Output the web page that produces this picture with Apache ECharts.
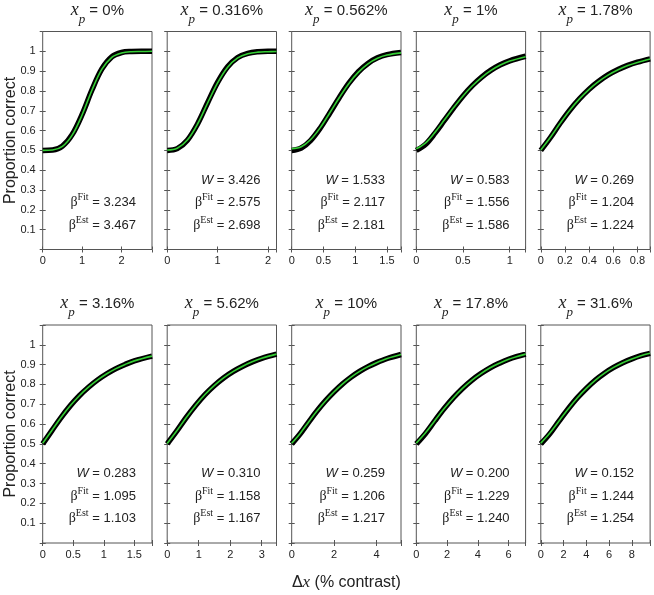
<!DOCTYPE html>
<html><head><meta charset="utf-8">
<script src="https://cdn.jsdelivr.net/npm/echarts@6/dist/echarts.min.js"></script>
<style>html,body{margin:0;padding:0;background:#fff}#c{width:654px;height:595px}</style>
</head><body><div id="c"></div>
<script>
// ---- data ----
const panelTitles = ['0%','0.316%','0.562%','1%','1.78%','3.16%','5.62%','10%','17.8%','31.6%'];
const wValues  = [null,'3.426','1.533','0.583','0.269','0.283','0.310','0.259','0.200','0.152'];
const betaFit  = ['3.234','2.575','2.117','1.556','1.204','1.095','1.158','1.206','1.229','1.244'];
const betaEst  = ['3.467','2.698','2.181','1.586','1.224','1.103','1.167','1.217','1.240','1.254'];
const xMax     = [2.77, 2.17, 1.72, 1.17, 0.905, 1.79, 3.47, 5.15, 7.1, 9.6];
const xTickStep= [1, 1, 0.5, 0.5, 0.2, 0.5, 1, 2, 2, 2];
const yTickLabels = [0.1,0.2,0.3,0.4,0.5,0.6,0.7,0.8,0.9,1];

const xs1 = [0,0.25,0.5,0.75,1.0,1.25,1.5,1.75,2.0,2.25,2.5,2.77];
const black1 = [0.5,0.502,0.522,0.581,0.682,0.806,0.911,0.972,0.994,0.999,1.0,1.0];
const green1 = [0.5,0.502,0.520,0.578,0.680,0.805,0.910,0.970,0.992,0.998,0.999,1.0];

const xs2 = [0,0.2,0.4,0.6,0.8,1.0,1.2,1.4,1.6,1.8,2.0,2.17];
const black2 = [0.5,0.509,0.551,0.632,0.739,0.843,0.922,0.969,0.990,0.998,1.0,1.0];
const green2 = [0.502,0.511,0.552,0.632,0.738,0.841,0.920,0.967,0.988,0.996,0.998,0.999];

const xs3 = [0,0.15,0.3,0.45,0.6,0.75,0.9,1.05,1.2,1.35,1.5,1.72];
const black3 = [0.5,0.512,0.551,0.613,0.689,0.767,0.839,0.897,0.939,0.967,0.983,0.994];
const green3 = [0.508,0.518,0.555,0.615,0.690,0.767,0.838,0.895,0.937,0.965,0.981,0.992];

const xs4 = [0,0.1,0.2,0.3,0.4,0.5,0.6,0.7,0.8,0.9,1.0,1.17];
const black4 = [0.5,0.531,0.587,0.651,0.715,0.775,0.827,0.870,0.905,0.932,0.952,0.975];
const green4 = [0.508,0.538,0.591,0.653,0.716,0.775,0.826,0.869,0.904,0.931,0.951,0.973];

const xs5 = [0,0.08,0.16,0.24,0.32,0.40,0.48,0.56,0.64,0.72,0.80,0.905];
const black5 = [0.5,0.565,0.637,0.703,0.760,0.809,0.849,0.882,0.908,0.929,0.945,0.962];
const green5 = [0.502,0.566,0.637,0.703,0.760,0.808,0.848,0.881,0.907,0.928,0.944,0.961];

const xs6 = [0,0.15,0.3,0.45,0.6,0.75,0.9,1.05,1.2,1.35,1.5,1.79];
const black6 = [0.5,0.567,0.633,0.692,0.743,0.786,0.823,0.854,0.880,0.901,0.919,0.943];
const green6 = [0.503,0.568,0.633,0.692,0.743,0.786,0.823,0.854,0.880,0.901,0.919,0.943];

const xs7 = [0,0.3,0.6,0.9,1.2,1.5,1.8,2.1,2.4,2.7,3.0,3.47];
const black7 = [0.5,0.564,0.632,0.694,0.749,0.795,0.834,0.866,0.892,0.914,0.932,0.953];
const green7 = [0.502,0.565,0.632,0.694,0.749,0.795,0.834,0.866,0.892,0.914,0.932,0.953];

const xs8 = [0,0.4,0.8,1.2,1.6,2.0,2.4,2.8,3.2,3.6,4.0,4.5,5.15];
const black8 = [0.5,0.551,0.610,0.667,0.718,0.763,0.803,0.837,0.866,0.890,0.910,0.931,0.951];
const green8 = [0.503,0.553,0.611,0.667,0.718,0.763,0.803,0.837,0.866,0.890,0.910,0.931,0.951];

const xs9 = [0,0.6,1.2,1.8,2.4,3.0,3.6,4.2,4.8,5.4,6.0,6.5,7.1];
const black9 = [0.5,0.553,0.616,0.677,0.732,0.780,0.821,0.855,0.884,0.907,0.927,0.940,0.953];
const green9 = [0.504,0.556,0.617,0.677,0.732,0.780,0.821,0.855,0.884,0.907,0.927,0.940,0.953];

const xs10 = [0,0.8,1.6,2.4,3.2,4.0,4.8,5.6,6.4,7.2,8.0,8.8,9.6];
const black10 = [0.5,0.552,0.615,0.676,0.732,0.780,0.822,0.857,0.886,0.910,0.929,0.945,0.957];
const green10 = [0.504,0.555,0.616,0.676,0.732,0.780,0.822,0.857,0.886,0.910,0.929,0.945,0.957];

const panelX = [xs1,xs2,xs3,xs4,xs5,xs6,xs7,xs8,xs9,xs10];
const panelBlack = [black1,black2,black3,black4,black5,black6,black7,black8,black9,black10];
const panelGreen = [green1,green2,green3,green4,green5,green6,green7,green8,green9,green10];

// ---- layout ----
const lefts = [42.7, 167.2, 291.7, 416.3, 540.8];
const GW = 109.3, GH = 218;
const tops = [31.5, 325];
const FRAME = '#555';
const TXT = '#222';
const SANS = '"Liberation Sans", Arial, sans-serif';
const SERIF = '"Liberation Serif", "Times New Roman", serif';

const ctx = document.createElement('canvas').getContext('2d');
function tw(t, font){ ctx.font = font; return ctx.measureText(t).width; }

const graphics = [];
function addPieces(pieces, startX, cy){
  let x = startX;
  pieces.forEach(p => {
    graphics.push({type:'text', x:x, y:cy + (p.dy||0), silent:true,
      style:{text:p.t, font:p.font, fill:TXT, textAlign:'left', textVerticalAlign:'middle', align:'left', verticalAlign:'middle'}});
    x += tw(p.t, p.font) + (p.gap||0);
  });
}
function piecesWidth(pieces){ return pieces.reduce((s,p)=>s+tw(p.t,p.font)+(p.gap||0),0); }

const grids=[], xAxes=[], yAxes=[], series=[];
function fmtTick(step){
  return v => {
    const k = v/step;
    if (Math.abs(k - Math.round(k)) > 1e-6) return '';
    return String(+v.toFixed(3));
  };
}

for (let i=0;i<10;i++){
  const row = Math.floor(i/5), col = i%5;
  const L = lefts[col], T = tops[row];
  grids.push({left:L, top:T, width:GW, height:GH, show:true, borderColor:FRAME, borderWidth:1, backgroundColor:'#fff'});
  const tick = {inside:true, length:3, lineStyle:{color:FRAME, width:1}};
  xAxes.push({gridIndex:i, type:'value', position:'bottom', min:0, max:xMax[i], interval:xTickStep[i],
    axisLine:{show:false}, axisTick:tick, splitLine:{show:false},
    axisLabel:{formatter:fmtTick(xTickStep[i]), fontSize:11, color:TXT, fontFamily:SANS, margin:6, showMaxLabel:true, hideOverlap:false}});
  xAxes.push({gridIndex:i, type:'value', position:'top', min:0, max:xMax[i], interval:xTickStep[i],
    axisLine:{show:false}, axisTick:tick, splitLine:{show:false}, axisLabel:{show:false}});
  yAxes.push({gridIndex:i, type:'value', position:'left', min:0, max:1.1, interval:0.1,
    axisLine:{show:false}, axisTick:tick, splitLine:{show:false},
    axisLabel:{show: col===0, fontSize:11, color:TXT, fontFamily:SANS, margin:7,
      formatter: v => { const r = +v.toFixed(1); return yTickLabels.indexOf(r) >= 0 ? String(r) : ''; }}});
  yAxes.push({gridIndex:i, type:'value', position:'right', min:0, max:1.1, interval:0.1,
    axisLine:{show:false}, axisTick:tick, splitLine:{show:false}, axisLabel:{show:false}});

  const xs = panelX[i];
  series.push({type:'line', xAxisIndex:2*i, yAxisIndex:2*i, data: xs.map((x,k)=>[x, panelBlack[i][k]]),
    smooth:0.35, symbol:'none', clip:true, lineStyle:{color:'#000', width:5.5}, z:2, silent:true, animation:false});
  series.push({type:'line', xAxisIndex:2*i, yAxisIndex:2*i, data: xs.map((x,k)=>[x, panelGreen[i][k]]),
    smooth:0.35, symbol:'none', clip:true, lineStyle:{color:'#35cf35', width:1.6}, z:3, silent:true, animation:false});

  // title
  const titlePieces = [
    {t:'x', font:'italic 18px ' + SERIF},
    {t:'p', font:'italic 13px ' + SERIF, dy:9.5},
    {t:' = ' + panelTitles[i], font:'15px ' + SANS}
  ];
  const cx = L + GW/2;
  addPieces(titlePieces, cx - piecesWidth(titlePieces)/2, row===0 ? 10.5 : 303.5);

  // annotations
  const R = L + GW - 16;
  if (wValues[i] !== null){
    const p = [{t:'W', font:'italic 13px ' + SANS}, {t:' = ' + wValues[i], font:'13px ' + SANS}];
    addPieces(p, R - piecesWidth(p), T + 148.5);
  }
  const pf = [{t:'β', font:'14px ' + SERIF}, {t:'Fit', font:'10px ' + SERIF, dy:-5}, {t:' = ' + betaFit[i], font:'13px ' + SANS}];
  addPieces(pf, R - piecesWidth(pf), T + 171.3);
  const pe = [{t:'β', font:'14px ' + SERIF}, {t:'Est', font:'10px ' + SERIF, dy:-5}, {t:' = ' + betaEst[i], font:'13px ' + SANS}];
  addPieces(pe, R - piecesWidth(pe), T + 193.8);
}

// y-axis labels
[tops[0] + GH/2, tops[1] + GH/2].forEach(cy => {
  graphics.push({type:'text', x:11, y:cy, rotation:Math.PI/2, silent:true,
    style:{text:'Proportion correct', font:'16px ' + SANS, fill:TXT, textAlign:'center', textVerticalAlign:'middle', align:'center', verticalAlign:'middle'}});
});
// x-axis label
const xl = [{t:'Δ', font:'16px ' + SANS}, {t:'x', font:'italic 17px ' + SERIF}, {t:' (% contrast)', font:'16px ' + SANS}];
addPieces(xl, lefts[2] + GW/2 - piecesWidth(xl)/2, 583);

const chart = echarts.init(document.getElementById('c'), null, {renderer:'canvas'});
chart.setOption({
  animation:false,
  backgroundColor:'#fff',
  grid:grids, xAxis:xAxes, yAxis:yAxes, series:series,
  graphic:{elements:graphics}
});
</script></body></html>
